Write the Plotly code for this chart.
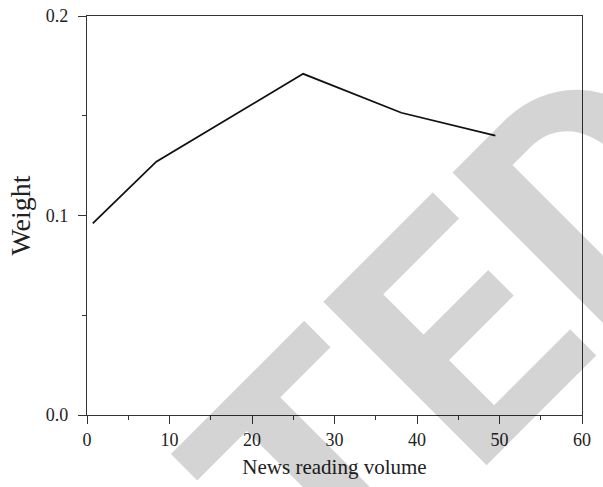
import plotly.graph_objects as go

# Data
news_volume = [0.7, 8.4, 26.2, 38.1, 49.5]
weight = [0.096, 0.127, 0.171, 0.1515, 0.140]

x_ticks = [0, 10, 20, 30, 40, 50, 60]
y_ticks = [0.0, 0.1, 0.2]

SERIF = "Liberation Serif, Times New Roman, serif"
AXIS_COLOR = "#333333"

fig = go.Figure()
fig.add_trace(go.Scatter(
    x=news_volume, y=weight, mode="lines",
    line=dict(color="#111111", width=1.8),
    showlegend=False, hoverinfo="skip",
))

fig.update_xaxes(
    range=[0, 60], tickvals=x_ticks, ticktext=[str(v) for v in x_ticks],
    ticks="outside", ticklen=8, tickwidth=1.2, tickcolor=AXIS_COLOR,
    minor=dict(dtick=5, tick0=0, ticks="outside", ticklen=4, tickwidth=1.2, tickcolor=AXIS_COLOR, showgrid=False),
    showline=True, linecolor=AXIS_COLOR, linewidth=1.3, mirror=True,
    showgrid=False, zeroline=False,
    tickfont=dict(family=SERIF, size=18, color="#222222"),
    title=dict(text="News reading volume", font=dict(family=SERIF, size=21, color="#222222"), standoff=10),
    automargin=False,
)
fig.update_yaxes(
    range=[0, 0.2], tickvals=y_ticks, ticktext=[f"{v:.1f}" for v in y_ticks],
    ticks="outside", ticklen=8, tickwidth=1.2, tickcolor=AXIS_COLOR,
    ticklabelstandoff=6,
    minor=dict(dtick=0.05, tick0=0, ticks="outside", ticklen=4, tickwidth=1.2, tickcolor=AXIS_COLOR, showgrid=False),
    showline=True, linecolor=AXIS_COLOR, linewidth=1.3, mirror=True,
    showgrid=False, zeroline=False,
    tickfont=dict(family=SERIF, size=18, color="#222222"),
    title=dict(text="Weight", font=dict(family=SERIF, size=28, color="#222222"), standoff=6),
    automargin=False,
)

# Watermark
fig.add_annotation(
    text="RETRACTED", xref="paper", yref="paper", x=-0.120, y=-0.881,
    xanchor="center", yanchor="middle", showarrow=False, textangle=-45,
    font=dict(family="Roboto, Liberation Sans, Arial, sans-serif",
              size=325, weight="bold", color="rgba(0,0,0,0.17)"),
)

fig.update_layout(
    width=603, height=487,
    margin=dict(l=87, r=21, t=16, b=72),
    paper_bgcolor="white", plot_bgcolor="white",
)

fig.write_html("out.html")
